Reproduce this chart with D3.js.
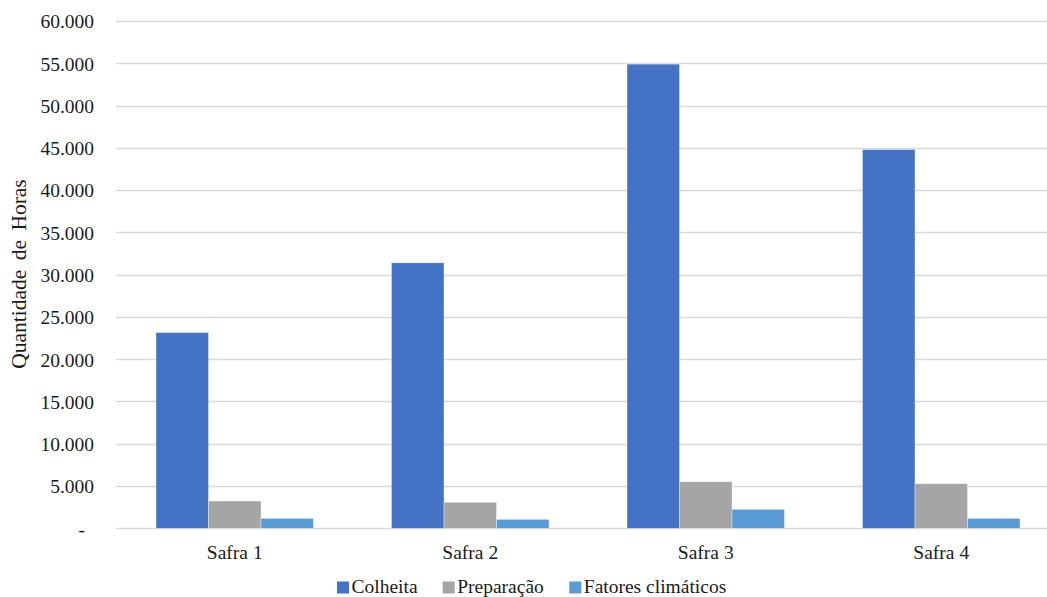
<!DOCTYPE html>
<html><head><meta charset="utf-8">
<script src="https://cdn.jsdelivr.net/npm/d3@7"></script>
<style>body{margin:0;background:#fff}svg{display:block}</style>
</head><body>
<script>
const categories = ["Safra 1","Safra 2","Safra 3","Safra 4"];
const seriesNames = ["Colheita","Preparação","Fatores climáticos"];
const colheita = [23150, 31400, 54900, 44800];
const preparacao = [3230, 3080, 5500, 5280];
const fatores = [1180, 1060, 2250, 1180];
const yTicks = [0,5000,10000,15000,20000,25000,30000,35000,40000,45000,50000,55000,60000];
const colors = ["#4472C4","#A5A5A5","#5B9BD5"];

const W=1047,H=597;
const serif="'Liberation Serif','Times New Roman',serif";
const svg=d3.select("body").append("svg").attr("width",W).attr("height",H);
const seriesVals=[colheita,preparacao,fatores];

const y=d3.scaleLinear().domain([0,60000]).range([528.3,21]);
const x0=d3.scaleBand().domain(categories).range([117,1059]).padding(0);
const x1=d3.scaleBand().domain(seriesNames).range([0,x0.bandwidth()]).paddingInner(0).paddingOuter(0.743);

// gridlines
svg.append("g").selectAll("line").data(yTicks).join("line")
  .attr("x1",116).attr("x2",W).attr("y1",d=>Math.round(y(d))+0.5).attr("y2",d=>Math.round(y(d))+0.5)
  .attr("stroke","#D9D9D9").attr("stroke-width",1.3);

// y axis labels
const fmt=d=>d===0?"-":d3.format(",")(d).replace(/,/g,".");
const yAxis=d3.axisLeft(y).tickValues(yTicks).tickFormat(fmt).tickSize(0).tickPadding(0);
const ga=svg.append("g").attr("transform","translate(94,0)").call(yAxis);
ga.select(".domain").remove();
ga.selectAll("text").attr("font-family",serif).attr("font-size","19.5px").attr("fill","#1a1a1a").attr("dy","0.35em");
ga.selectAll(".tick").filter(d=>d===0).select("text").attr("x",-9);

// bars
const g=svg.append("g");
categories.forEach((c,i)=>{
  seriesNames.forEach((s,j)=>{
    g.append("rect")
      .attr("x",x0(c)+x1(s)).attr("width",x1.bandwidth())
      .attr("y",y(seriesVals[j][i])).attr("height",y(0)-y(seriesVals[j][i]))
      .attr("fill",colors[j]).attr("stroke","#ffffff").attr("stroke-width",0.6).attr("stroke-opacity",0.6);
  });
});

// x labels
const xAxis=d3.axisBottom(x0).tickSize(0).tickPadding(0);
const gx=svg.append("g").attr("transform","translate(0,552)").call(xAxis);
gx.select(".domain").remove();
gx.selectAll("text").attr("font-family",serif).attr("font-size","19.5px").attr("fill","#1a1a1a").attr("dy","0.35em").attr("y",0);

// y title
svg.append("text").attr("transform","translate(26,274) rotate(-90)")
  .attr("text-anchor","middle")
  .attr("font-family",serif).attr("font-size","21.5px")
  .attr("word-spacing","4px").attr("fill","#1a1a1a").text("Quantidade de Horas");

// legend
const legX=[337,442.7,569.3];
const leg=svg.append("g");
seriesNames.forEach((s,j)=>{
  leg.append("rect").attr("x",legX[j]).attr("y",581.5).attr("width",12).attr("height",12).attr("fill",colors[j]);
  leg.append("text").attr("x",legX[j]+14.5).attr("y",593)
    .attr("font-family",serif).attr("font-size","19.5px").attr("fill","#1a1a1a").text(s);
});
</script>
</body></html>
